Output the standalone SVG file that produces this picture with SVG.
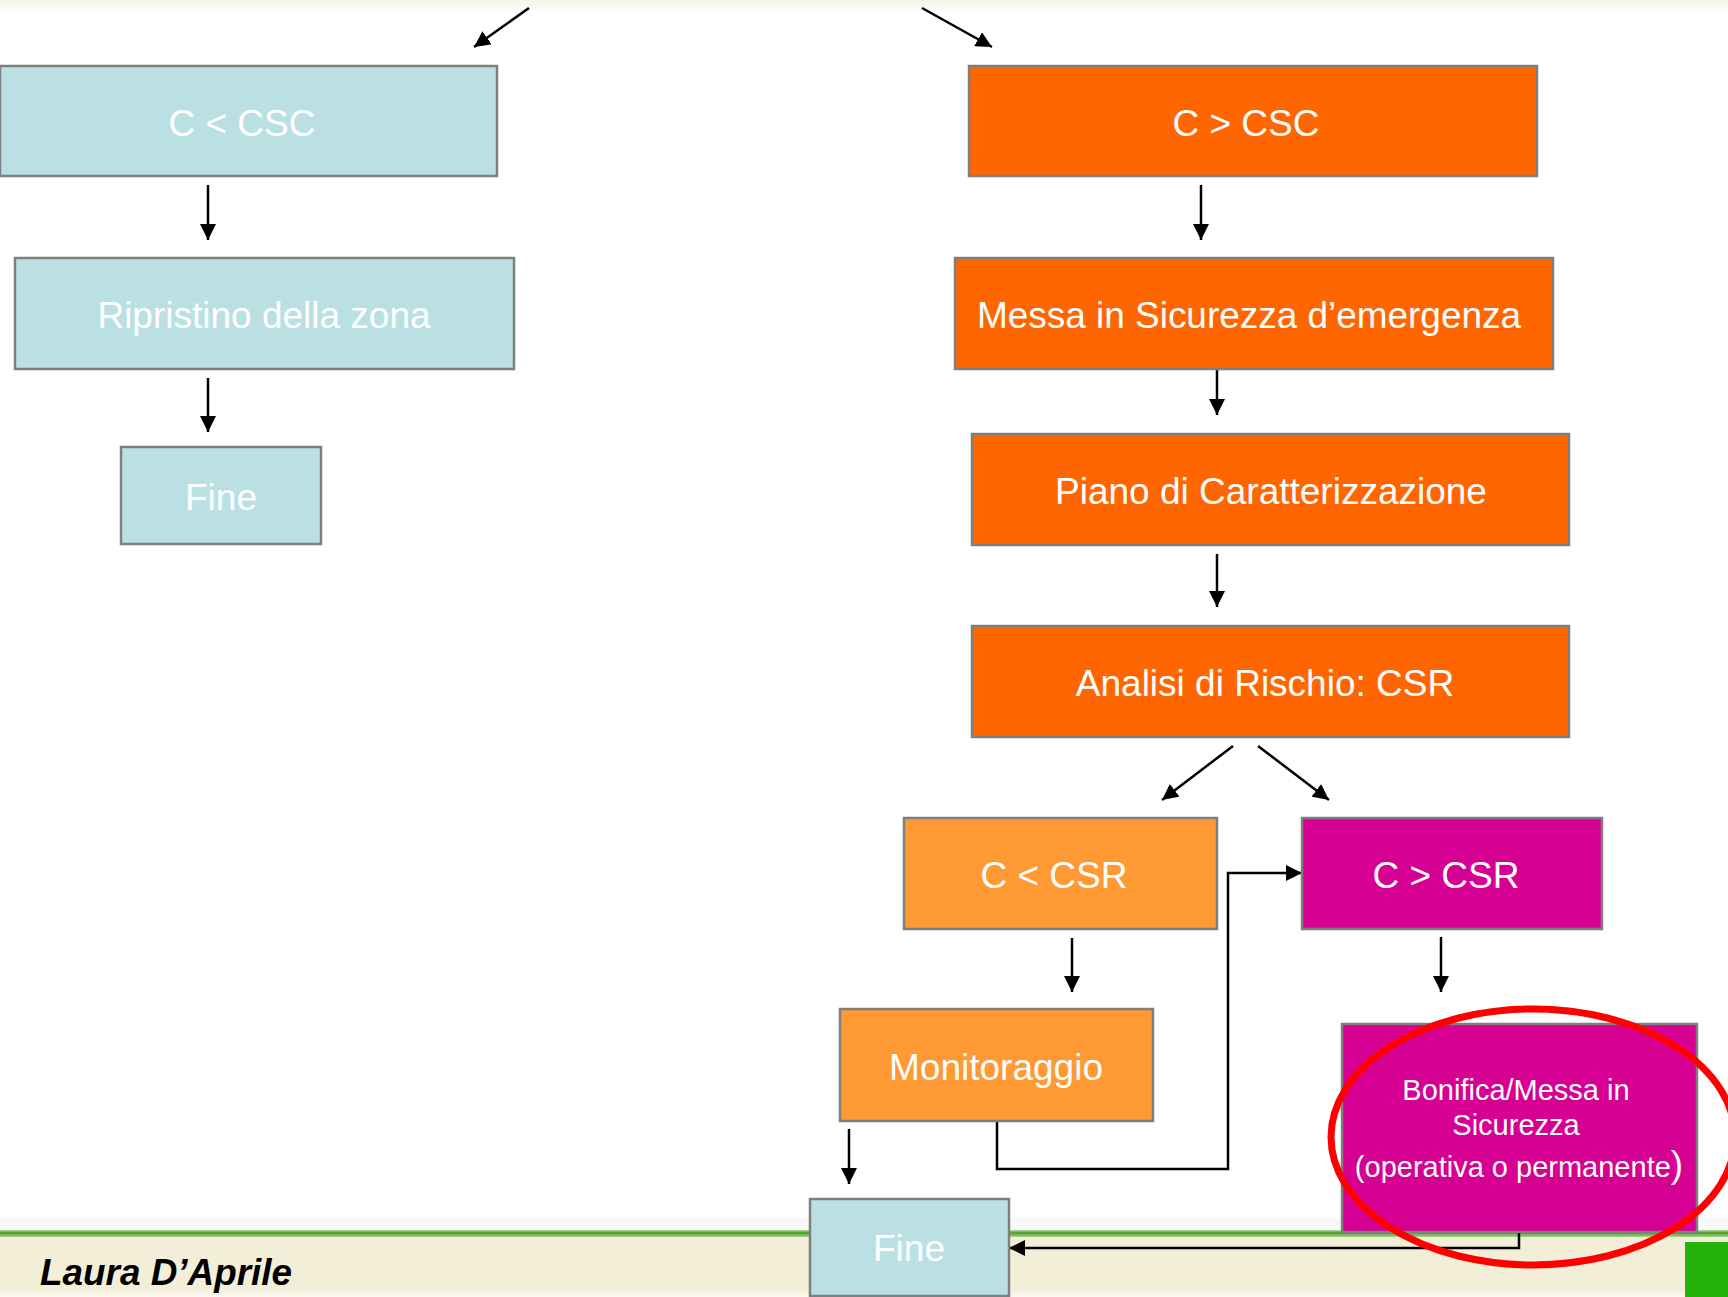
<svg xmlns="http://www.w3.org/2000/svg" width="1728" height="1297" viewBox="0 0 1728 1297">
<defs>
<style>
.box{stroke:#7f7f7f;stroke-width:2.5}
.blue{fill:#bbe0e3}
.orange{fill:#ff6600}
.lorange{fill:#ff9933}
.mag{fill:#d60093}
.t{font-family:"Liberation Sans",Arial,sans-serif;font-size:37px;fill:#ffffff;text-anchor:middle}
.ts{font-family:"Liberation Sans",Arial,sans-serif;font-size:29px;fill:#ffffff;text-anchor:middle}
.c{fill:none;stroke:#000;stroke-width:2.5}
</style>
<marker id="ah" markerUnits="userSpaceOnUse" markerWidth="17" markerHeight="16" refX="16" refY="8" orient="auto">
<path d="M0,0 L16,8 L0,16 z" fill="#000"/>
</marker>
<linearGradient id="topg" x1="0" y1="0" x2="0" y2="1">
<stop offset="0" stop-color="#f6f5e6"/>
<stop offset="1" stop-color="#ffffff"/>
</linearGradient>
<linearGradient id="gl" x1="0" y1="0" x2="0" y2="1">
<stop offset="0" stop-color="#b8dca0"/>
<stop offset="0.4" stop-color="#4e9a24"/>
<stop offset="1" stop-color="#a8d490"/>
</linearGradient>
<linearGradient id="bg" x1="0" y1="0" x2="0" y2="1">
<stop offset="0" stop-color="#f3eed8"/>
<stop offset="0.85" stop-color="#f3eed8"/>
<stop offset="1" stop-color="#fbf9f2"/>
</linearGradient>
</defs>
<rect x="0" y="0" width="1728" height="1297" fill="#ffffff"/>
<rect x="0" y="0" width="1728" height="12" fill="url(#topg)"/>
<g id="footer">
<rect x="0" y="1218" width="1728" height="14" fill="#f8f7fb"/>
<rect x="0" y="1230" width="1728" height="7" fill="url(#gl)"/>
<rect x="0" y="1237" width="1728" height="60" fill="url(#bg)"/>
<rect x="1685" y="1242" width="43" height="55" fill="#22b20a"/>
<text x="40" y="1285" font-family="Liberation Sans, Arial, sans-serif" font-size="36" font-weight="bold" font-style="italic" fill="#000" textLength="252" lengthAdjust="spacingAndGlyphs">Laura D’Aprile</text>
</g>
<g id="connectors">
<line class="c" x1="529" y1="8" x2="474" y2="47" marker-end="url(#ah)"/>
<line class="c" x1="922" y1="8" x2="992" y2="47" marker-end="url(#ah)"/>
<line class="c" x1="208" y1="185" x2="208" y2="240" marker-end="url(#ah)"/>
<line class="c" x1="208" y1="378" x2="208" y2="432" marker-end="url(#ah)"/>
<line class="c" x1="1201" y1="185" x2="1201" y2="240" marker-end="url(#ah)"/>
<line class="c" x1="1217" y1="369" x2="1217" y2="415" marker-end="url(#ah)"/>
<line class="c" x1="1217" y1="554" x2="1217" y2="607" marker-end="url(#ah)"/>
<line class="c" x1="1233" y1="746" x2="1162" y2="800" marker-end="url(#ah)"/>
<line class="c" x1="1258" y1="746" x2="1329" y2="800" marker-end="url(#ah)"/>
<line class="c" x1="1072" y1="938" x2="1072" y2="992" marker-end="url(#ah)"/>
<line class="c" x1="1441" y1="937" x2="1441" y2="992" marker-end="url(#ah)"/>
<line class="c" x1="849" y1="1129" x2="849" y2="1184" marker-end="url(#ah)"/>
<polyline class="c" points="997,1121 997,1169 1228,1169 1228,873 1302,873" marker-end="url(#ah)"/>
<polyline class="c" points="1519,1233 1519,1248 1009,1248" marker-end="url(#ah)"/>
</g>
<g id="n-c-lt-csc"><rect class="box blue" x="0" y="66" width="497" height="110"/><text class="t" x="242" y="136">C &lt; CSC</text></g>
<g id="n-ripristino"><rect class="box blue" x="15" y="258" width="499" height="111"/><text class="t" x="264" y="328">Ripristino della zona</text></g>
<g id="n-fine1"><rect class="box blue" x="121" y="447" width="200" height="97"/><text class="t" x="221" y="510">Fine</text></g>
<g id="n-c-gt-csc"><rect class="box orange" x="969" y="66" width="568" height="110"/><text class="t" x="1246" y="136">C &gt; CSC</text></g>
<g id="n-messa"><rect class="box orange" x="955" y="258" width="598" height="111"/><text class="t" x="1249" y="328" textLength="544" lengthAdjust="spacing">Messa in Sicurezza d’emergenza</text></g>
<g id="n-piano"><rect class="box orange" x="972" y="434" width="597" height="111"/><text class="t" x="1271" y="504">Piano di Caratterizzazione</text></g>
<g id="n-analisi"><rect class="box orange" x="972" y="626" width="597" height="111"/><text class="t" x="1265" y="696">Analisi di Rischio: CSR</text></g>
<g id="n-c-lt-csr"><rect class="box lorange" x="904" y="818" width="313" height="111"/><text class="t" x="1054" y="888">C &lt; CSR</text></g>
<g id="n-c-gt-csr"><rect class="box mag" x="1302" y="818" width="300" height="111"/><text class="t" x="1446" y="888">C &gt; CSR</text></g>
<g id="n-monitoraggio"><rect class="box lorange" x="840" y="1009" width="313" height="112"/><text class="t" x="996" y="1080">Monitoraggio</text></g>
<g id="n-bonifica"><rect class="box mag" x="1342" y="1024" width="355" height="208"/>
<text class="ts" x="1516" y="1100">Bonifica/Messa in</text>
<text class="ts" x="1516" y="1135">Sicurezza</text>
<text class="ts" x="1519" y="1177">(operativa o permanente<tspan font-size="37">)</tspan></text></g>
<g id="n-fine2"><rect class="box blue" x="810" y="1199" width="199" height="97"/><text class="t" x="909" y="1261">Fine</text></g>
<ellipse id="highlight" cx="1533" cy="1137" rx="202" ry="128" fill="none" stroke="#ff0000" stroke-width="7"/>
</svg>
